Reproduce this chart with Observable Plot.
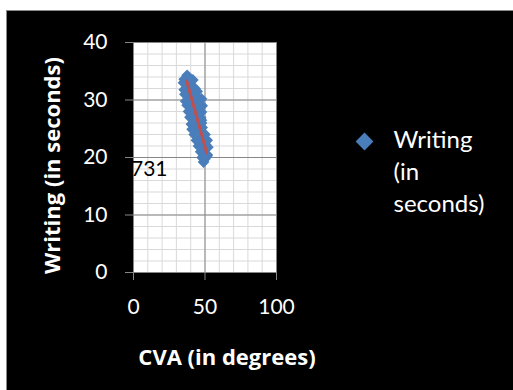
<!DOCTYPE html>
<html>
<head>
<meta charset="utf-8">
<script src="https://cdn.jsdelivr.net/npm/d3@7"></script>
<script src="https://cdn.jsdelivr.net/npm/@observablehq/plot@0.6"></script>
<style>
  html, body { margin: 0; padding: 0; background: white; }
  #wrap { position: relative; width: 513px; height: 390px; overflow: hidden; }
  #chart { position: absolute; left: 6px; top: 10px; border: 1px solid #8a8a8a; background: black; width: 506px; height: 379px; }
  #chart svg { display: block; }
</style>
</head>
<body>
<div id="wrap"><div id="chart"></div></div>
<script>
// CVA (in degrees) vs Writing (in seconds)
const cva = [37.5, 35.5, 38.5, 41.5, 35, 37.5, 39.5, 35.5, 38, 40.5, 43, 36, 38.5, 41, 43, 44.5, 36.5, 39, 42, 44.5, 47.5,
  37.5, 40, 42.5, 45, 48, 38.5, 41, 43.5, 46, 47.5, 39.5, 42, 44.5, 47, 47.5, 40.5, 43, 45.5, 47.5, 41, 43.5, 46, 48,
  42.5, 45, 47.5, 50, 44, 46.5, 49, 51.5, 45.5, 48, 50.5, 52, 47, 49.5, 51.5, 48, 50, 51.5, 49];
const writing = [34.3, 33.6, 33.8, 33.5, 33, 32.8, 33.1, 31.8, 32.2, 31.9, 32, 31, 30.7, 31.2, 30.8, 31.5, 29.8, 30.2, 29.9, 30.1, 30.2,
  29.1, 28.7, 29.2, 28.9, 29, 28, 27.8, 28.2, 27.7, 27.9, 27, 26.7, 27.2, 26.9, 26.5, 25.8, 26.1, 25.7, 26, 24.9, 25.2, 24.6, 25.2,
  24, 23.8, 24.2, 24, 23, 22.8, 23.1, 23, 22, 21.7, 22.2, 21.8, 21, 20.8, 20.5, 20, 19.8, 20.3, 19.2];
const trendCva = [37.2, 51.2];
const trendWriting = [33.3, 20.8];
const xTicks = [0, 50, 100];
const yTicks = [0, 10, 20, 30, 40];
const xMinor = d3.range(0, 101, 10);
const yMinor = d3.range(0, 41, 2);
const dataLabels = ["731"];
const dataLabelX = [11];
const dataLabelY = [17.9];
const seriesName = "Writing (in seconds)";
const legendLines = ["Writing", "(in", "seconds)"];
const xTitle = "CVA (in degrees)";
const yTitle = "Writing (in seconds)";

const points = cva.map((x, i) => ({x, y: writing[i]}));
const trend = trendCva.map((x, i) => ({x, y: trendWriting[i]}));
const labels = dataLabels.map((t, i) => ({t, x: dataLabelX[i], y: dataLabelY[i]}));

const blue = "#4a7ebb";
const font = "Lato, 'Open Sans', sans-serif";
const titleFont = "'Open Sans', Lato, sans-serif";

const chart = Plot.plot({
  width: 506,
  height: 379,
  marginLeft: 126,
  marginRight: 237,
  marginTop: 31,
  marginBottom: 118,
  style: {background: "transparent", fontFamily: font, fontSize: "21px", color: "white", overflow: "visible"},
  x: {domain: [0, 100]},
  y: {domain: [0, 40]},
  marks: [
    Plot.frame({fill: "white", stroke: null}),
    Plot.gridX({ticks: xMinor, stroke: "#d9d9d9", strokeOpacity: 1}),
    Plot.gridY({ticks: yMinor, stroke: "#d9d9d9", strokeOpacity: 1}),
    Plot.gridX({ticks: xTicks, stroke: "#868686", strokeOpacity: 1}),
    Plot.gridY({ticks: yTicks, stroke: "#868686", strokeOpacity: 1}),
    Plot.axisX({ticks: xTicks, tickSize: 8, tickPadding: 19, stroke: "#868686", fill: "white", fontSize: 21, label: null}),
    Plot.axisY({ticks: yTicks, tickSize: 8, tickPadding: 18, stroke: "#868686", fill: "white", fontSize: 21, label: null}),
    Plot.dot(points, {x: "x", y: "y", symbol: "diamond2", r: 5.3, fill: blue, stroke: null}),
    Plot.line(trend, {x: "x", y: "y", stroke: "#c0504d", strokeWidth: 3}),
    Plot.text(labels, {x: "x", y: "y", text: "t", fill: "black", fontSize: 21}),
    Plot.text([xTitle], {frameAnchor: "bottom", text: d => d, fill: "white", fontSize: 22, fontWeight: "bold",
      fontFamily: titleFont, textAnchor: "middle", lineAnchor: "middle", dx: 22, dy: 85}),
    Plot.text([yTitle], {frameAnchor: "left", text: d => d, rotate: -90, fill: "white", fontSize: 22, fontWeight: "bold",
      fontFamily: titleFont, textAnchor: "middle", lineAnchor: "middle", dx: -81, dy: 8}),
    Plot.dot([seriesName], {frameAnchor: "top-right", symbol: "diamond2", r: 8, fill: blue, stroke: null, dx: 88, dy: 99}),
    Plot.text([legendLines.join("\n")], {frameAnchor: "top-right", text: d => d, textAnchor: "start", lineAnchor: "top",
      lineHeight: 1.33, fill: "white", fontSize: 24, dx: 117, dy: 83})
  ]
});
document.getElementById("chart").appendChild(chart);
</script>
</body>
</html>
